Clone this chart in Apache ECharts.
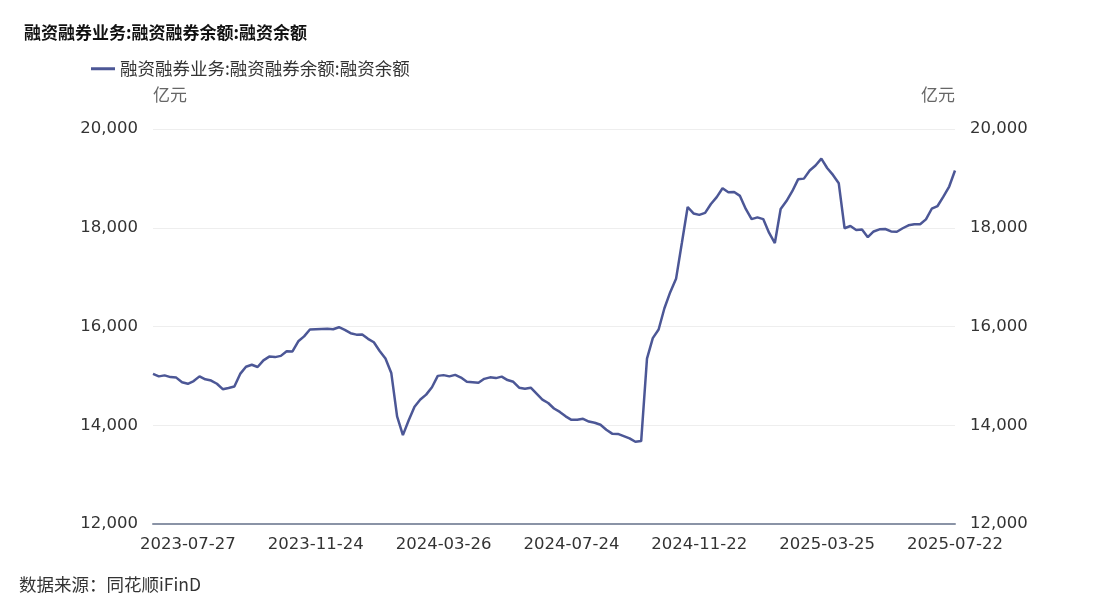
<!DOCTYPE html>
<html>
<head>
<meta charset="utf-8">
<script src="https://cdn.jsdelivr.net/npm/echarts@6/dist/echarts.min.js"></script>
<style>
html,body{margin:0;padding:0;background:#fff;}
#c{width:1101px;height:611px;}
</style>
</head>
<body>
<div id="c"></div>
<script>
const title = '融资融券业务:融资融券余额:融资余额';
const seriesName = '融资融券业务:融资融券余额:融资余额';
const unit = '亿元';
const source = '数据来源：同花顺iFinD';

const dates = [
'2023-06-26','2023-06-30','2023-07-06','2023-07-11','2023-07-14','2023-07-20','2023-07-27',
'2023-08-01','2023-08-04','2023-08-10','2023-08-15','2023-08-21','2023-08-24','2023-08-30',
'2023-09-04','2023-09-07','2023-09-13','2023-09-18','2023-09-21','2023-09-27','2023-10-11',
'2023-10-16','2023-10-20','2023-10-26','2023-10-31','2023-11-06','2023-11-10','2023-11-16',
'2023-11-24',
'2023-11-29','2023-12-05','2023-12-08','2023-12-14','2023-12-19','2023-12-22','2023-12-28',
'2024-01-03','2024-01-08','2024-01-11','2024-01-17','2024-01-22','2024-01-25','2024-01-31',
'2024-02-02','2024-02-07','2024-02-21','2024-02-27','2024-03-04','2024-03-12','2024-03-19',
'2024-03-26',
'2024-03-29','2024-04-03','2024-04-10','2024-04-15','2024-04-19','2024-04-24','2024-04-29',
'2024-05-08','2024-05-13','2024-05-16','2024-05-22','2024-05-27','2024-05-31','2024-06-06',
'2024-06-12','2024-06-17','2024-06-21','2024-06-27','2024-07-03','2024-07-10','2024-07-17',
'2024-07-24',
'2024-07-29','2024-08-01','2024-08-07','2024-08-12','2024-08-15','2024-08-21','2024-08-26',
'2024-08-29','2024-09-04','2024-09-09','2024-09-12','2024-09-20','2024-09-30','2024-10-10',
'2024-10-15','2024-10-18','2024-10-23','2024-10-28','2024-11-01','2024-11-07','2024-11-14',
'2024-11-22',
'2024-11-27','2024-12-03','2024-12-06','2024-12-12','2024-12-17','2024-12-20','2024-12-26',
'2024-12-31','2025-01-06','2025-01-09','2025-01-15','2025-01-20','2025-01-23','2025-02-06',
'2025-02-11','2025-02-14','2025-02-20','2025-02-25','2025-03-03','2025-03-10','2025-03-18',
'2025-03-25',
'2025-03-28','2025-04-03','2025-04-09','2025-04-14','2025-04-17','2025-04-23','2025-04-28',
'2025-05-08','2025-05-13','2025-05-16','2025-05-22','2025-05-27','2025-06-03','2025-06-06',
'2025-06-12','2025-06-17','2025-06-23','2025-06-27','2025-07-03','2025-07-09','2025-07-15',
'2025-07-22'
];

const values = [
15040,14990,15010,14975,14965,14870,14840,
14895,14990,14930,14905,14840,14730,14755,
14785,15040,15185,15225,15180,15315,15390,
15380,15405,15500,15495,15700,15800,15940,
15945,
15950,15952,15945,15985,15930,15865,15835,
15840,15750,15680,15505,15350,15060,14180,
13800,14100,14375,14520,14620,14770,15000,
15015,
14990,15020,14965,14880,14870,14860,14940,
14970,14955,14985,14915,14880,14760,14740,
14760,14640,14520,14450,14340,14270,14180,
14110,
14110,14130,14075,14050,14010,13910,13830,
13825,13780,13735,13665,13680,15350,15765,
15940,16370,16695,16965,17690,18420,18290,
18260,
18300,18480,18620,18800,18720,18725,18645,
18380,18175,18210,18175,17900,17690,18380,
18540,18740,18980,18995,19160,19260,19400,
19210,
19070,18900,17990,18035,17955,17965,17810,
17925,17968,17975,17925,17920,17990,18050,
18070,18070,18170,18385,18440,18630,18835,
19160
];

const labelDates = ['2023-07-27','2023-11-24','2024-03-26','2024-07-24','2024-11-22','2025-03-25','2025-07-22'];
const yMin = 12000, yMax = 20000, yStep = 2000;

const FONT = '"Noto Sans CJK SC", "Noto Sans", sans-serif';
const NUMFONT = '"DejaVu Sans", "Noto Sans", sans-serif';
const chart = echarts.init(document.getElementById('c'), null, {renderer: 'canvas'});
const fmt = v => v.toLocaleString('en-US');

chart.setOption({
  animation: false,
  backgroundColor: '#ffffff',
  textStyle: {fontFamily: FONT},
  title: {
    text: title, left: 19, top: 19,
    textStyle: {fontSize: 17, fontWeight: 'bold', color: '#111', fontFamily: FONT}
  },
  legend: {
    left: 86, top: 55,
    icon: 'rect', itemWidth: 24, itemHeight: 3, itemGap: 8,
    textStyle: {fontSize: 17.5, color: '#333', fontFamily: FONT},
    data: [seriesName]
  },
  graphic: [{
    type: 'text', left: 19, top: 576,
    style: {text: source, fontSize: 17.5, fill: '#333', fontFamily: FONT}
  }],
  grid: {left: 153, right: 146, top: 129, bottom: 87, containLabel: false},
  xAxis: {
    type: 'category', data: dates, boundaryGap: false,
    axisLine: {show: true, lineStyle: {color: '#8a93a6', width: 2}},
    axisTick: {show: false},
    axisLabel: {
      interval: (i, v) => labelDates.indexOf(v) >= 0,
      fontSize: 16.5, color: '#333', margin: 12, fontFamily: NUMFONT
    },
    splitLine: {show: false}
  },
  yAxis: [{
    type: 'value', min: yMin, max: yMax, interval: yStep, position: 'left',
    name: unit, nameLocation: 'end', nameGap: 26,
    nameTextStyle: {fontSize: 17, color: '#666', align: 'left', fontFamily: FONT},
    axisLine: {show: false}, axisTick: {show: false},
    axisLabel: {formatter: fmt, fontSize: 16.5, color: '#333', margin: 15, fontFamily: NUMFONT},
    splitLine: {show: true, lineStyle: {color: '#eeeeee', width: 1}}
  }, {
    type: 'value', min: yMin, max: yMax, interval: yStep, position: 'right',
    name: unit, nameLocation: 'end', nameGap: 26,
    nameTextStyle: {fontSize: 17, color: '#666', align: 'right', fontFamily: FONT},
    axisLine: {show: false}, axisTick: {show: false},
    axisLabel: {formatter: fmt, fontSize: 16.5, color: '#333', margin: 15, fontFamily: NUMFONT},
    splitLine: {show: false}
  }],
  series: [{
    name: seriesName, type: 'line', data: values, yAxisIndex: 0,
    showSymbol: false, symbol: 'none',
    lineStyle: {color: '#4c5796', width: 2.5},
    itemStyle: {color: '#4c5796'}
  }]
});
</script>
</body>
</html>
